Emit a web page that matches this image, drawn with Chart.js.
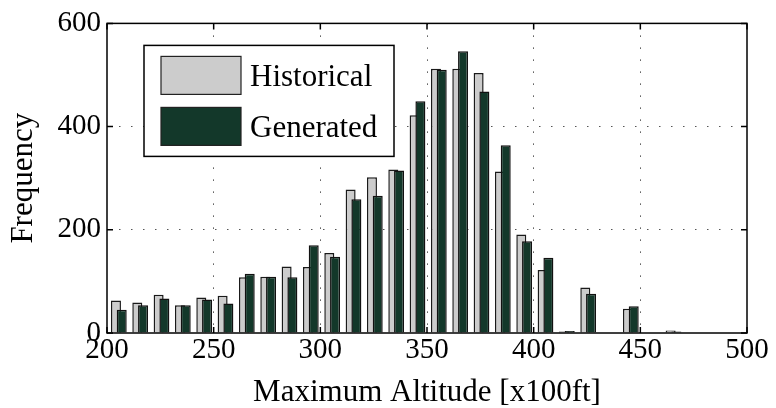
<!DOCTYPE html>
<html>
<head>
<meta charset="utf-8">
<script src="https://cdn.jsdelivr.net/npm/chart.js@4.4.1/dist/chart.umd.min.js"></script>
<style>
    html, body { margin: 0; padding: 0; background: #fff; }
</style>
</head>
<body>
<canvas id="altitudeChart" width="776" height="408"></canvas>
<script>
//! ========================== Data ====================================
const binCenters = [205, 215, 225, 235, 245, 255, 265, 275, 285, 295,
                    305, 315, 325, 335, 345, 355, 365, 375, 385, 395,
                    405, 415, 425, 435, 445, 455, 465, 475, 485, 495];
const historical = [63, 59, 74, 54, 69, 72, 108, 109, 129, 128,
                    155, 278, 302, 317, 422, 512, 512, 504, 313, 191,
                    122, 3, 88, 0, 47, 1, 5, 0, 1, 0];
const generated = [45, 54, 67, 54, 65, 57, 115, 109, 108, 170,
                   148, 259, 266, 315, 449, 510, 546, 468, 364, 178,
                   146, 4, 76, 0, 52, 0, 3, 0, 0, 0];
const seriesNames = ['Historical', 'Generated'];
const xTicks = [200, 250, 300, 350, 400, 450, 500];
const yTicks = [0, 200, 400, 600];

//! ========================== Style ===================================
const FONT = '"Liberation Serif", "Times New Roman", serif';
const lightGray = '#cccccc';
const darkGreen = '#13382a';
// bars of a pair overlap a little, like MATLAB grouped bars
const histShift = 0.8;
const genShift = -1.9;

Chart.defaults.font.family = FONT;
Chart.defaults.color = '#000';

//! ================ frame with inner tick marks =======================
const axesFrame = {
    id: 'axesFrame',
    afterDatasetsDraw(chart) {
        const ctx = chart.ctx;
        const a = chart.chartArea;
        const xs = chart.scales.x;
        const ys = chart.scales.y;
        const len = 6;
        ctx.save();
        ctx.strokeStyle = '#000';
        ctx.lineWidth = 1.5;
        ctx.beginPath();
        xTicks.forEach(v => {
            const px = xs.getPixelForValue(v);
            ctx.moveTo(px, a.bottom); ctx.lineTo(px, a.bottom - len);
            ctx.moveTo(px, a.top); ctx.lineTo(px, a.top + len);
        });
        yTicks.forEach(v => {
            const py = ys.getPixelForValue(v);
            ctx.moveTo(a.left, py); ctx.lineTo(a.left + len, py);
            ctx.moveTo(a.right, py); ctx.lineTo(a.right - len, py);
        });
        ctx.stroke();
        ctx.strokeRect(a.left, a.top, a.right - a.left, a.bottom - a.top);
        ctx.restore();
    }
};

//! ====================== legend inside axes ==========================
const boxLegend = {
    id: 'boxLegend',
    afterDatasetsDraw(chart) {
        const ctx = chart.ctx;
        const a = chart.chartArea;
        const x0 = a.left + 37, y0 = a.top + 22, w = 250, h = 111;
        ctx.save();
        ctx.fillStyle = '#fff';
        ctx.fillRect(x0, y0, w, h);
        ctx.lineWidth = 1.5;
        ctx.strokeStyle = '#000';
        ctx.strokeRect(x0, y0, w, h);
        chart.data.datasets.forEach((ds, i) => {
            const sy = y0 + 11 + i * 51;
            ctx.fillStyle = ds.backgroundColor;
            ctx.fillRect(x0 + 17, sy, 80, 38);
            ctx.lineWidth = 1.2;
            ctx.strokeStyle = '#222';
            ctx.strokeRect(x0 + 17, sy, 80, 38);
            ctx.fillStyle = '#000';
            ctx.font = '31px ' + FONT;
            ctx.textBaseline = 'alphabetic';
            ctx.fillText(ds.label, x0 + 106, sy + 30);
        });
        ctx.restore();
    }
};

//! ========================== Chart ===================================
function dotGrid(edges) {
    return ctx => edges.includes(ctx.tick && ctx.tick.value) ? 'rgba(0,0,0,0)' : '#555';
}

const ctx = document.getElementById('altitudeChart').getContext('2d');
new Chart(ctx, {
    type: 'bar',
    data: {
        datasets: [{
            label: seriesNames[0],
            data: binCenters.map((x, i) => ({ x: x, y: historical[i] })),
            xAxisID: 'xh',
            backgroundColor: lightGray,
            borderColor: '#1a1a1a',
            borderWidth: 1.5,
            order: 1
        }, {
            label: seriesNames[1],
            data: binCenters.map((x, i) => ({ x: x, y: generated[i] })),
            xAxisID: 'xg',
            backgroundColor: darkGreen,
            borderColor: '#111',
            borderWidth: 1.5,
            order: 0
        }]
    },
    options: {
        responsive: false,
        animation: false,
        devicePixelRatio: 1,
        datasets: {
            bar: { grouped: false, categoryPercentage: 1, barPercentage: 0.47, maxBarThickness: 10 }
        },
        layout: { padding: { left: 0, right: 29, top: 19, bottom: 0 } },
        plugins: { legend: { display: false }, tooltip: { enabled: false } },
        scales: {
            x: {
                type: 'linear',
                position: 'bottom',
                min: 200, max: 500,
                offset: false,
                afterBuildTicks: s => { s.ticks = xTicks.map(v => ({ value: v })); },
                afterFit: s => { s.height = 75; },
                ticks: { font: { size: 29 }, padding: 0, maxRotation: 0, color: '#000' },
                grid: { offset: false, drawTicks: false, color: dotGrid([200, 500]), lineWidth: 1 },
                border: { display: false, dash: [1.5, 10.5] },
                title: { display: true, text: 'Maximum Altitude [x100ft]', font: { size: 31 },
                         padding: { top: 0, bottom: -3 }, color: '#000' }
            },
            xh: {
                type: 'linear', display: false, offset: false,
                min: 200 + histShift, max: 500 + histShift,
                grid: { offset: false }
            },
            xg: {
                type: 'linear', display: false, offset: false,
                min: 200 + genShift, max: 500 + genShift,
                grid: { offset: false }
            },
            y: {
                min: 0, max: 600,
                afterBuildTicks: s => { s.ticks = yTicks.map(v => ({ value: v })); },
                afterFit: s => { s.width = 107; },
                ticks: { font: { size: 29 }, padding: 6, color: '#000' },
                grid: { drawTicks: false, color: dotGrid([0, 600]), lineWidth: 1 },
                border: { display: false, dash: [1.5, 10.5] },
                title: { display: true, text: 'Frequency', font: { size: 31 },
                         padding: { top: 5, bottom: 0 }, color: '#000' }
            }
        }
    },
    plugins: [axesFrame, boxLegend]
});
</script>
</body>
</html>
